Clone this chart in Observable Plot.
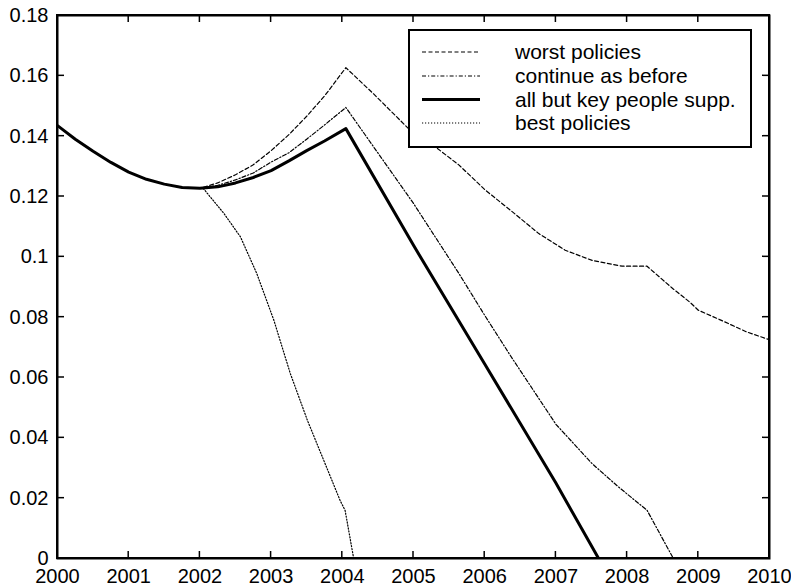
<!DOCTYPE html>
<html>
<head>
<meta charset="utf-8">
<script src="https://cdn.jsdelivr.net/npm/d3@7"></script>
<script src="https://cdn.jsdelivr.net/npm/@observablehq/plot@0.6"></script>
<style>
  html, body { margin: 0; padding: 0; background: #fff; }
  #chart svg { display: block; }
</style>
</head>
<body>
<div id="chart"></div>
<script>
// ---- tick values ----
const xTicks = [2000, 2001, 2002, 2003, 2004, 2005, 2006, 2007, 2008, 2009, 2010];
const yTicks = [0, 0.02, 0.04, 0.06, 0.08, 0.1, 0.12, 0.14, 0.16, 0.18];
const yTickLabels = ["0", "0.02", "0.04", "0.06", "0.08", "0.1", "0.12", "0.14", "0.16", "0.18"];

// ---- shared history (all scenarios identical until 2002) ----
const commonYears  = [2000, 2000.25, 2000.5, 2000.75, 2001, 2001.25, 2001.5, 2001.75, 2002];
const commonValues = [0.1435, 0.139, 0.135, 0.1313, 0.1281, 0.1257, 0.1241, 0.1230, 0.1227];

// ---- scenario-specific paths after 2002 ----
const worstYears  = [2002.25, 2002.5, 2002.75, 2003, 2003.25, 2003.5, 2003.75, 2004.05, 2004.44, 2004.93, 2005.31, 2005.64, 2006.01, 2006.39, 2006.76, 2007.13, 2007.51, 2007.93, 2008.28, 2008.64, 2008.88, 2009, 2009.3, 2009.68, 2010];
const worstValues = [0.1245, 0.1272, 0.1305, 0.1352, 0.1405, 0.1466, 0.1533, 0.1627, 0.154, 0.1425, 0.1364, 0.1304, 0.1221, 0.1149, 0.1077, 0.1022, 0.0988, 0.0969, 0.0969, 0.0895, 0.085, 0.0823, 0.0792, 0.0751, 0.0725];

const continueYears  = [2002.25, 2002.5, 2002.75, 2003, 2003.25, 2003.5, 2003.75, 2004.05, 2005, 2005.64, 2006, 2006.39, 2007, 2007.51, 2007.88, 2008.28, 2008.65];
const continueValues = [0.1237, 0.1255, 0.1278, 0.1314, 0.1345, 0.139, 0.1437, 0.1495, 0.1177, 0.0944, 0.0806, 0.0662, 0.0445, 0.0314, 0.0237, 0.016, 0];

const keyYears  = [2002.25, 2002.5, 2002.75, 2003, 2003.25, 2003.5, 2003.75, 2004.05, 2005, 2006, 2007, 2007.6];
const keyValues = [0.1232, 0.1245, 0.1263, 0.1286, 0.1318, 0.1352, 0.1384, 0.1425, 0.1038, 0.0645, 0.025, 0];

const bestYears  = [2002.05, 2002.34, 2002.57, 2002.8, 2003.04, 2003.27, 2003.51, 2003.74, 2003.97, 2004.04, 2004.16];
const bestValues = [0.1226, 0.1143, 0.1066, 0.0944, 0.0789, 0.0613, 0.0458, 0.0325, 0.0192, 0.0159, 0];

const seriesNames = ["worst policies", "continue as before", "all but key people supp.", "best policies"];

function build(years, values) {
  const xs = commonYears.concat(years);
  const ys = commonValues.concat(values);
  return xs.map((x, i) => ({x, y: ys[i]}));
}
const worst = build(worstYears, worstValues);
const cont = build(continueYears, continueValues);
const key = build(keyYears, keyValues);
const best = build(bestYears, bestValues);

const styles = [
  {stroke: "#000", strokeWidth: 1.2, strokeDasharray: "4,2.5"},
  {stroke: "#000", strokeWidth: 1.2, strokeDasharray: "4,2,1.2,2"},
  {stroke: "#000", strokeWidth: 3, strokeDasharray: null},
  {stroke: "#000", strokeWidth: 1.2, strokeDasharray: "1.2,1.8"}
];

const FONT = "'Liberation Sans', Arial, Helvetica, sans-serif";

const chart = Plot.plot({
  width: 791,
  height: 588,
  marginLeft: 57,
  marginRight: 22,
  marginTop: 15,
  marginBottom: 30,
  style: {fontFamily: FONT, fontSize: "20px", background: "#fff", color: "#000", overflow: "visible"},
  x: {domain: [2000, 2010], label: null},
  y: {domain: [0, 0.18], label: null},
  marks: [
    Plot.axisX(xTicks, {label: null, tickSize: 0, tickPadding: 10, tickFormat: d => String(d), fontSize: 20, fill: "#000"}),
    Plot.axisY(yTicks, {label: null, tickSize: 0, tickPadding: 9, tickFormat: d => yTickLabels[yTicks.indexOf(d)], fontSize: 20, fill: "#000"}),
    Plot.line(worst, {x: "x", y: "y", ...styles[0], clip: true}),
    Plot.line(cont, {x: "x", y: "y", ...styles[1], clip: true}),
    Plot.line(best, {x: "x", y: "y", ...styles[3], clip: true}),
    Plot.line(key, {x: "x", y: "y", ...styles[2], clip: true}),
    Plot.frame({stroke: "#000", strokeWidth: 2, strokeOpacity: 1})
  ]
});

document.getElementById("chart").appendChild(chart);

// ---- inward ticks on all four sides (MATLAB style), using Plot's scales ----
const sx = chart.scale("x"), sy = chart.scale("y");
const svg = d3.select(chart);
const x0 = sx.apply(2000), x1 = sx.apply(2010);
const y0 = sy.apply(0), y1 = sy.apply(0.18);
const T = 7;
const g = svg.append("g").attr("stroke", "#000").attr("stroke-width", 1.5);
xTicks.forEach(v => {
  const px = sx.apply(v);
  g.append("line").attr("x1", px).attr("x2", px).attr("y1", y0).attr("y2", y0 - T);
  g.append("line").attr("x1", px).attr("x2", px).attr("y1", y1).attr("y2", y1 + T);
});
yTicks.forEach(v => {
  const py = sy.apply(v);
  g.append("line").attr("y1", py).attr("y2", py).attr("x1", x0).attr("x2", x0 + T);
  g.append("line").attr("y1", py).attr("y2", py).attr("x1", x1).attr("x2", x1 - T);
});
// redraw the axis box crisply on top
svg.append("rect").attr("x", x0).attr("y", y1).attr("width", x1 - x0).attr("height", y0 - y1)
  .attr("fill", "none").attr("stroke", "#000").attr("stroke-width", 2);

// ---- legend box inside plot (upper right) ----
const lg = svg.append("g").attr("font-family", FONT).attr("font-size", 21).attr("text-anchor", "start");
lg.append("rect").attr("x", 409).attr("y", 30).attr("width", 342).attr("height", 117)
  .attr("fill", "#fff").attr("stroke", "#000").attr("stroke-width", 2);
const rowY = [52, 76, 99.5, 123];
seriesNames.forEach((name, i) => {
  const s = styles[i];
  const ln = lg.append("line").attr("x1", 422).attr("x2", 480).attr("y1", rowY[i]).attr("y2", rowY[i])
    .attr("stroke", s.stroke).attr("stroke-width", s.strokeWidth);
  if (s.strokeDasharray) ln.attr("stroke-dasharray", s.strokeDasharray);
  lg.append("text").attr("x", 515).attr("y", rowY[i]).attr("dy", "0.35em").attr("fill", "#000")
    .attr("text-anchor", "start").text(name);
});
</script>
</body>
</html>
